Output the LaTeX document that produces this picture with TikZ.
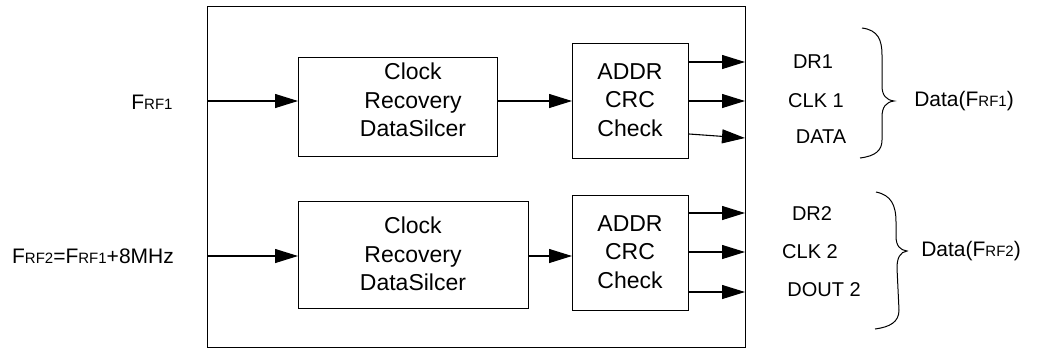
\documentclass[tikz,border=0pt]{standalone}
\usepackage{fontspec}
\setmainfont{Liberation Sans}
\usetikzlibrary{arrows.meta}
\newcommand\smrf[1]{{\fontsize{15}{15}\selectfont #1}}
\begin{document}
\begin{tikzpicture}[x=1pt,y=-1pt,
  box/.style={draw,line width=1.1pt,inner sep=0pt,anchor=north west},
  blk/.style={font=\fontsize{23}{28.5}\selectfont,align=center,inner sep=0pt},
  lbl/.style={font=\fontsize{20}{24}\selectfont,inner sep=0pt},
  inl/.style={font=\fontsize{21}{24}\selectfont,inner sep=0pt},
  sig/.style={line width=1.1pt,-{Triangle[length=23pt,width=14pt]}},
  brc/.style={line width=1pt}]
\useasboundingbox[fill=white] (0,0) rectangle (1044,349);

% boxes
\node[box,minimum width=538pt,minimum height=341pt] (outer) at (207,6) {};
\node[box,minimum width=199pt,minimum height=99pt] (cr1) at (298,57) {};
\node[box,minimum width=116pt,minimum height=115pt] (addr1) at (572,43) {};
\node[box,minimum width=230pt,minimum height=107pt] (cr2) at (298,201) {};
\node[box,minimum width=116pt,minimum height=115pt] (addr2) at (572,195) {};

% block texts
\node[blk] (t1) at (413,100) {Clock\\Recovery\\DataSilcer};
\node[blk] (t2) at (630,100) {ADDR\\CRC\\Check};
\node[blk] (t3) at (413,254) {Clock\\Recovery\\DataSilcer};
\node[blk] (t4) at (630,252) {ADDR\\CRC\\Check};

% inputs
\node[inl] (f1) at (152,102) {F\smrf{RF1}};
\node[inl] (f2) at (93,256) {F\smrf{RF2}=F\smrf{RF1}+8MHz};
\coordinate (in1) at (207,101);
\coordinate (in2) at (207,256);
\draw[sig] (in1) -- (cr1.west |- in1);
\draw[sig] (in2) -- (cr2.west |- in2);
\draw[sig] (cr1.east |- in1) -- (addr1.west |- in1);
\draw[sig] (cr2.east |- in2) -- (addr2.west |- in2);

% outputs
\coordinate (o11) at (745,62);
\coordinate (o12) at (745,101);
\coordinate (o13) at (745,138);
\coordinate (o21) at (745,213);
\coordinate (o22) at (745,252);
\coordinate (o23) at (745,292);
\draw[sig] (addr1.east |- o11) -- (o11);
\draw[sig] (addr1.east |- o12) -- (o12);
\draw[sig] (addr1.east |- 0,134) -- (o13);
\draw[sig] (addr2.east |- o21) -- (o21);
\draw[sig] (addr2.east |- o22) -- (o22);
\draw[sig] (addr2.east |- o23) -- (o23);

% output labels
\node[lbl] (dr1) at (813,62) {DR1};
\node[lbl] (clk1) at (816,101) {CLK 1};
\node[lbl] (data1) at (821,137) {DATA};
\node[lbl] (dr2) at (812,214) {DR2};
\node[lbl] (clk2) at (810,252) {CLK 2};
\node[lbl] (dout2) at (824,290) {DOUT 2};

% braces
\draw[brc] (862,28) .. controls (878,30) and (882,40) .. (882,55) -- (882,86)
  .. controls (882,95) and (886,100) .. (894,101)
  .. controls (886,102) and (882,107) .. (882,117) -- (882,140)
  .. controls (882,150) and (876,156) .. (860,158);
\draw[brc] (876,192) .. controls (891,195) and (896,205) .. (896,222) -- (896,236)
  .. controls (896,246) and (900,250) .. (907,251)
  .. controls (900,252) and (897,258) .. (897,268) -- (899,310)
  .. controls (899,322) and (890,327) .. (875,329);

\node[inl] (d1) at (964,101) {Data(F\smrf{RF1})};
\node[inl] (d2) at (971,251) {Data(F\smrf{RF2})};
\end{tikzpicture}
\end{document}
